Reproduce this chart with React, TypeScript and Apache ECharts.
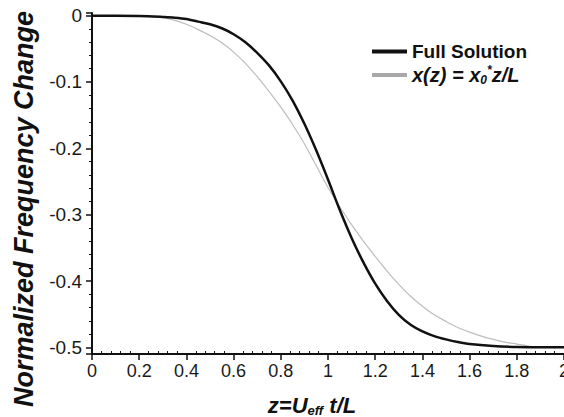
import React, { useEffect, useRef } from "react";
import * as echarts from "echarts";

const FONT = "'Liberation Sans', Arial, sans-serif";

// Full solution (black)
const zFull = [0, 0.1, 0.2, 0.3, 0.35, 0.4, 0.45, 0.5, 0.55, 0.6, 0.65, 0.7, 0.75, 0.8, 0.85, 0.9, 0.95, 1.0, 1.05, 1.1, 1.15, 1.2, 1.25, 1.3, 1.35, 1.4, 1.45, 1.5, 1.55, 1.6, 1.7, 1.8, 1.9, 2.0];
const vFull = [0, 0, -0.0005, -0.002, -0.003, -0.005, -0.009, -0.013, -0.019, -0.028, -0.04, -0.056, -0.075, -0.099, -0.128, -0.163, -0.203, -0.247, -0.293, -0.335, -0.372, -0.404, -0.43, -0.451, -0.466, -0.476, -0.483, -0.488, -0.492, -0.495, -0.498, -0.4995, -0.5, -0.5];

// Approximation x(z) = x0*z/L (gray)
const zApprox = [0, 0.2, 0.3, 0.35, 0.4, 0.45, 0.5, 0.55, 0.6, 0.65, 0.7, 0.75, 0.8, 0.85, 0.9, 0.95, 1.0, 1.05, 1.1, 1.15, 1.2, 1.25, 1.3, 1.35, 1.4, 1.45, 1.5, 1.55, 1.6, 1.65, 1.7, 1.75, 1.8, 1.85, 1.9, 2.0];
const vApprox = [0, 0, -0.003, -0.007, -0.013, -0.021, -0.03, -0.041, -0.055, -0.072, -0.092, -0.114, -0.138, -0.164, -0.193, -0.226, -0.259, -0.288, -0.315, -0.34, -0.363, -0.385, -0.405, -0.423, -0.438, -0.451, -0.461, -0.47, -0.477, -0.483, -0.488, -0.492, -0.495, -0.498, -0.4995, -0.5];

const seriesNames = ["Full Solution", "x(z) = x0*z/L"];
const yTitle = "Normalized Frequency Change";

export default function App() {
  const ref = useRef<HTMLDivElement>(null);
  useEffect(() => {
    if (!ref.current) return;
    const chart = echarts.init(ref.current, null, { renderer: "svg" });
    const axisLineStyle = { color: "#111", width: 2 };
    chart.setOption({
      animation: false,
      backgroundColor: "#fff",
      grid: { left: 92, right: 0, top: 13, bottom: 63, containLabel: false, outerBoundsMode: "none" },
      legend: {
        left: 367,
        top: 37,
        orient: "vertical",
        icon: "rect",
        itemWidth: 35,
        itemHeight: 4,
        itemGap: 3,
        data: [
          { name: seriesNames[0], itemStyle: { color: "#111" } },
          { name: seriesNames[1], itemStyle: { color: "#a8a8a8" } },
        ],
        formatter: (name: string) =>
          name === seriesNames[0]
            ? "{b|Full Solution}"
            : "{i|x(z) = x}{sub|0}{sup|*}{i|z/L}",
        textStyle: {
          fontFamily: FONT,
          color: "#111",
          rich: {
            b: { fontFamily: FONT, fontSize: 19, fontWeight: "bold", lineHeight: 22, color: "#111" },
            i: { fontFamily: FONT, fontSize: 20, fontWeight: "bold", fontStyle: "italic", lineHeight: 22, color: "#111" },
            sub: { fontFamily: FONT, fontSize: 12, fontWeight: "bold", fontStyle: "italic", lineHeight: 12, verticalAlign: "bottom", color: "#111" },
            sup: { fontFamily: FONT, fontSize: 12, fontWeight: "bold", fontStyle: "italic", lineHeight: 12, verticalAlign: "top", color: "#111" },
          },
        },
      },
      xAxis: {
        type: "value",
        min: 0,
        max: 2,
        interval: 0.2,
        axisLine: { show: true, onZero: false, lineStyle: axisLineStyle },
        axisTick: { show: true, length: 6, lineStyle: { color: "#111", width: 1.5 } },
        minorTick: { show: true, splitNumber: 5, length: -3, lineStyle: { color: "#111", width: 1 } },
        splitLine: { show: false },
        axisLabel: { fontFamily: FONT, fontSize: 18, color: "#1a1a1a", margin: 8 },
      },
      yAxis: {
        type: "value",
        min: -0.51,
        max: 0.004,
        splitNumber: 5,
        axisLine: { show: true, onZero: false, lineStyle: axisLineStyle },
        axisTick: { show: true, length: 6, lineStyle: { color: "#111", width: 1.5 } },
        minorTick: { show: true, splitNumber: 5, length: 3, lineStyle: { color: "#111", width: 1 } },
        splitLine: { show: false },
        axisLabel: { fontFamily: FONT, fontSize: 19, color: "#1a1a1a", margin: 10, showMinLabel: false, showMaxLabel: false },
      },
      graphic: [
        {
          type: "text",
          x: 24,
          y: 209,
          rotation: Math.PI / 2,
          style: {
            text: yTitle,
            fontFamily: FONT,
            fontSize: 27,
            fontWeight: "bold",
            fontStyle: "italic",
            fill: "#111",
            align: "center",
            verticalAlign: "middle",
            textAlign: "center",
            textVerticalAlign: "middle",
          },
        },
        {
          type: "text",
          x: 312,
          y: 405,
          style: {
            text: "{a|z=U}{s|eff}{a| t/L}",
            fill: "#111",
            align: "center",
            verticalAlign: "middle",
            textAlign: "center",
            textVerticalAlign: "middle",
            rich: {
              a: { fontFamily: FONT, fontSize: 22, fontWeight: "bold", fontStyle: "italic", lineHeight: 24, fill: "#111" },
              s: { fontFamily: FONT, fontSize: 13, fontWeight: "bold", fontStyle: "italic", lineHeight: 12, verticalAlign: "bottom", fill: "#111" },
            },
          },
        },
      ],
      series: [
        {
          name: seriesNames[0],
          type: "line",
          data: zFull.map((z, i) => [z, vFull[i]]),
          showSymbol: false,
          symbol: "none",
          smooth: 0.3,
          z: 3,
          lineStyle: { color: "#111", width: 2.5 },
          itemStyle: { color: "#111" },
        },
        {
          name: seriesNames[1],
          type: "line",
          data: zApprox.map((z, i) => [z, vApprox[i]]),
          showSymbol: false,
          symbol: "none",
          smooth: 0.3,
          z: 2,
          lineStyle: { color: "#bdbdbd", width: 1.2 },
          itemStyle: { color: "#a8a8a8" },
        },
      ],
    });
    return () => chart.dispose();
  }, []);
  return (
    <div
      ref={ref}
      style={{ position: "fixed", left: 0, top: 0, width: 564, height: 417, background: "#fff" }}
    />
  );
}
